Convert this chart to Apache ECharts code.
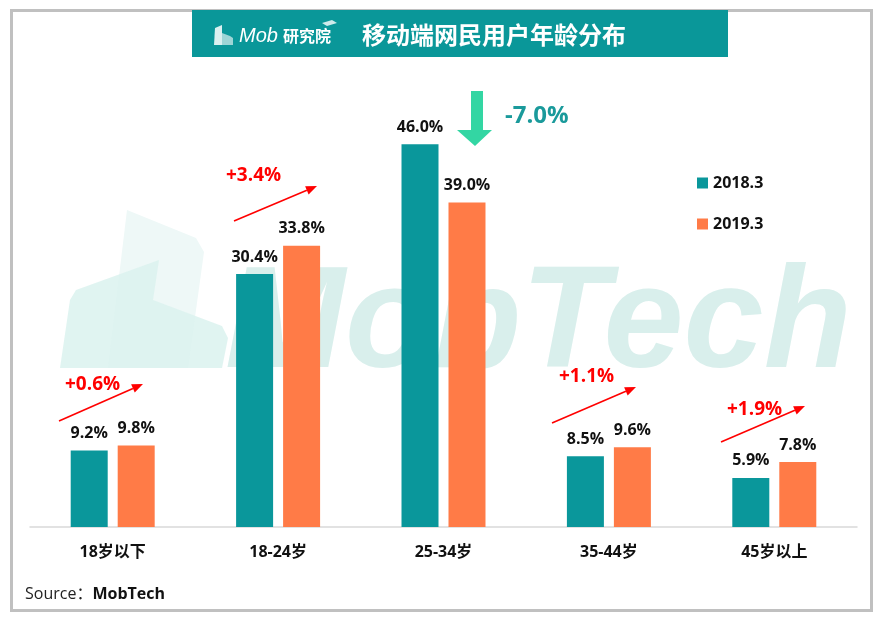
<!DOCTYPE html>
<html><head><meta charset="utf-8">
<script src="https://cdn.jsdelivr.net/npm/echarts@6/dist/echarts.min.js"></script>
<style>html,body{margin:0;padding:0;background:#fff}#c{width:883px;height:620px}</style>
</head><body><div id="c"></div>
<script>
var categories = ['18岁以下', '18-24岁', '25-34岁', '35-44岁', '45岁以上'];
var seriesNames = ['2018.3', '2019.3'];
var values2018 = [9.2, 30.4, 46.0, 8.5, 5.9];
var values2019 = [9.8, 33.8, 39.0, 9.6, 7.8];
var changeLabels = ['+0.6%', '+3.4%', '-7.0%', '+1.1%', '+1.9%'];

var FONT = "'Open Sans','Noto Sans CJK SC',sans-serif";
var TEAL = '#0A979B', ORANGE = '#FF7B47';

function arrow(x1, y1, x2, y2) {
  var dx = x2 - x1, dy = y2 - y1, L = Math.sqrt(dx*dx + dy*dy);
  var ux = dx / L, uy = dy / L, hl = 11, hw = 4.5;
  var bx = x2 - ux * hl, by = y2 - uy * hl;
  return [
    {type: 'line', z: 100, shape: {x1: x1, y1: y1, x2: bx, y2: by}, style: {stroke: '#FF0000', lineWidth: 1.6}},
    {type: 'polygon', z: 100, shape: {points: [[x2, y2], [bx - uy*hw, by + ux*hw], [bx + uy*hw, by - ux*hw]]}, style: {fill: '#FF0000'}}
  ];
}
function redText(txt, x, y) {
  return {type: 'text', z: 100, x: x, y: y, style: {text: txt, fill: '#FF0000', font: 'bold 19px ' + FONT, textVerticalAlign: 'middle'}};
}

var graphics = [
  // frame
  {type: 'rect', z: 0, shape: {x: 11.5, y: 10.5, width: 860, height: 600}, style: {fill: 'none', stroke: '#C0C0C0', lineWidth: 3}},
  // watermark logo
  {type: 'polygon', z: 0, shape: {points: [[127,210],[196,238],[204,252],[188,368],[108,368]]}, style: {fill: '#EEF8F7'}},
  {type: 'polygon', z: 0, shape: {points: [[76,290],[159,260],[153,300],[222,326],[228,338],[222,368],[60,368],[70,300]]}, style: {fill: '#DAF2EE', opacity: 0.85}},
  {type: 'text', z: 0, x: 225, y: 327, style: {text: 'MobTech', fill: '#D9EFEC', font: 'italic bold 144px Arial, "Liberation Sans", sans-serif', textVerticalAlign: 'middle'}},
  // title bar
  {type: 'rect', z: 1, shape: {x: 192, y: 10, width: 536, height: 47}, style: {fill: '#0A9799'}},
  {type: 'polygon', z: 2, shape: {points: [[215,28],[222,25],[222,45],[214,45]]}, style: {fill: 'rgba(255,255,255,0.85)'}},
  {type: 'polygon', z: 2, shape: {points: [[222,33],[230,36],[233,38],[233,45],[222,45]]}, style: {fill: 'rgba(255,255,255,0.6)'}},
  {type: 'text', z: 2, x: 239, y: 36, style: {text: 'Mob', fill: '#fff', font: 'italic 20px Arial, sans-serif', textVerticalAlign: 'middle'}},
  {type: 'text', z: 2, x: 283, y: 36, style: {text: '研究院', fill: '#fff', font: 'bold 16px "Noto Sans CJK SC", sans-serif', textVerticalAlign: 'middle'}},
  {type: 'polygon', z: 2, shape: {points: [[322,23],[332,20],[337,23],[327,26]]}, style: {fill: 'rgba(255,255,255,0.8)'}},
  {type: 'text', z: 2, x: 362, y: 35, style: {text: '移动端网民用户年龄分布', fill: '#fff', font: 'bold 24px "Noto Sans CJK SC", sans-serif', textVerticalAlign: 'middle'}},
  // green down arrow
  {type: 'polygon', z: 100, shape: {points: [[471,91],[483,91],[483,130],[492,130],[475,146],[457,130],[471,130]]}, style: {fill: '#33D6A3'}},
  {type: 'text', z: 100, x: 505, y: 116, style: {text: changeLabels[2], fill: '#1A9A9B', font: 'bold 24px ' + FONT, textVerticalAlign: 'middle'}},
  redText(changeLabels[0], 65, 385),
  redText(changeLabels[1], 226, 176),
  redText(changeLabels[3], 559, 377),
  redText(changeLabels[4], 727, 410),
  // source
  {type: 'text', z: 100, x: 25, y: 594, style: {text: '{n|Source：}{b|MobTech}', textVerticalAlign: 'middle',
    rich: {n: {fontSize: 16, fontFamily: FONT, fill: '#222'}, b: {fontSize: 16, fontWeight: 'bold', fontFamily: FONT, fill: '#111'}}}}
];
graphics = graphics.concat(arrow(59, 421, 143, 384), arrow(234, 221, 317, 186), arrow(552, 423, 636, 387), arrow(721, 442, 805, 406));

var chart = echarts.init(document.getElementById('c'));
var lbl = {show: true, position: 'top', distance: 9, color: '#111', fontWeight: 'bold', fontSize: 16, fontFamily: FONT, formatter: function (p) { return p.value.toFixed(1) + '%'; }};
chart.setOption({
  animation: false,
  textStyle: {fontFamily: FONT},
  grid: {left: 30, right: 26, top: 111, bottom: 93},
  legend: {orient: 'vertical', left: 697, top: 175, padding: 0, itemWidth: 11, itemHeight: 11, itemGap: 25, icon: 'rect', itemStyle: {borderWidth: 0},
    textStyle: {fontSize: 16, fontWeight: 'bold', color: '#111', fontFamily: FONT, padding: [0, 0, 0, 0]}, data: seriesNames},
  xAxis: {type: 'category', data: categories, axisTick: {show: false}, axisLine: {lineStyle: {color: '#D9D9D9', width: 1.5}},
    axisLabel: {fontSize: 16, fontWeight: 'bold', color: '#111', margin: 17, fontFamily: FONT}},
  yAxis: {type: 'value', min: 0, max: 50, show: false, splitLine: {show: false}},
  series: [
    {name: seriesNames[0], type: 'bar', data: values2018, barWidth: 37, barGap: '27%', itemStyle: {color: TEAL}, label: lbl, z: 3},
    {name: seriesNames[1], type: 'bar', data: values2019, barWidth: 37, itemStyle: {color: ORANGE}, label: lbl, z: 3}
  ],
  graphic: {elements: graphics}
});
</script></body></html>
